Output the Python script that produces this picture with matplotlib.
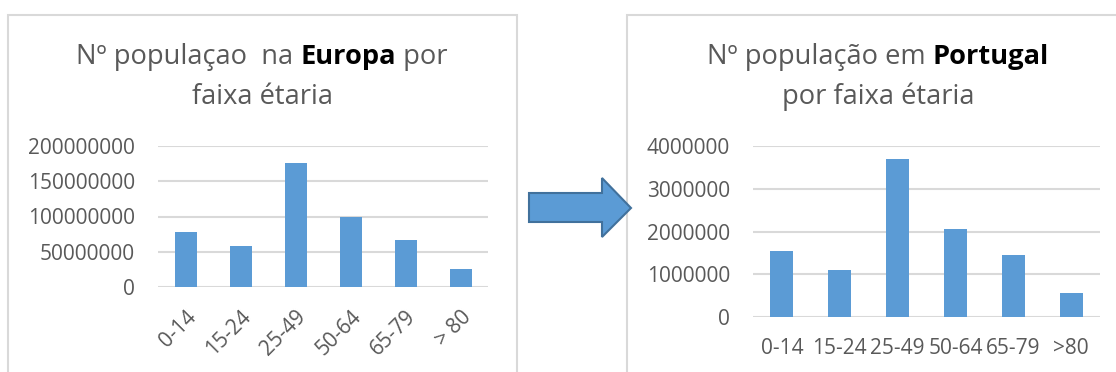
import matplotlib
matplotlib.use('Agg')
import matplotlib.pyplot as plt
from matplotlib.patches import Rectangle, Polygon
from matplotlib.ticker import FixedLocator

W, H = 1116, 372
plt.rcParams['font.family'] = ['Open Sans', 'DejaVu Sans']

faixas_eu = ['0-14', '15-24', '25-49', '50-64', '65-79', '> 80']
faixas_pt = ['0-14', '15-24', '25-49', '50-64', '65-79', '>80']
pop_europa = [77800000, 57500000, 175500000, 99000000, 66000000, 25500000]
pop_portugal = [1540000, 1110000, 3700000, 2060000, 1460000, 550000]

AZUL = '#5B9BD5'
CINZA = '#595959'
GRELHA = '#D9D9D9'

fig = plt.figure(figsize=(W / 100, H / 100), dpi=100)
fig.patch.set_facecolor('white')


def fx(px):
    return px / W


def fy(py):
    return 1 - py / H


# molduras dos dois gráficos
for x0, x1 in [(8, 517), (627, 1130)]:
    fig.patches.append(Rectangle((fx(x0), fy(400)), fx(x1 - x0), (400 - 15) / H,
                                 transform=fig.transFigure, fill=False,
                                 edgecolor=GRELHA, linewidth=1.5))

# seta entre os gráficos
seta = [(529, 193), (602, 193), (602, 178), (631, 208), (602, 237), (602, 222), (529, 222)]
fig.patches.append(Polygon([(fx(a), fy(b)) for a, b in seta], closed=True,
                           transform=fig.transFigure, facecolor=AZUL,
                           edgecolor='#41719C', linewidth=1.5))


def titulo(partes, cx, cy, size=19.6):
    r = fig.canvas.get_renderer()
    txts = []
    for s, bold in partes:
        t = fig.text(0, fy(cy), s, fontsize=size, color='black' if bold else CINZA,
                     fontweight='bold' if bold else 'normal', va='center', ha='left')
        txts.append(t)
    larg = [t.get_window_extent(r).width for t in txts]
    x = cx - sum(larg) / 2
    for t, w in zip(txts, larg):
        t.set_x(fx(x))
        x += w


def grafico(rect, valores, etiquetas, ymax, passo, rodar):
    ax = fig.add_axes(rect)
    ax.bar(range(len(valores)), valores, width=0.4, color=AZUL, zorder=3)
    ax.set_xlim(-0.5, len(valores) - 0.5)
    ax.set_ylim(0, ymax)
    ax.yaxis.set_major_locator(FixedLocator(range(0, ymax + 1, passo)))
    ax.yaxis.set_major_formatter(lambda v, p: f'{int(v)}')
    ax.grid(axis='y', color=GRELHA, linewidth=1.5, zorder=0)
    for s in ax.spines.values():
        s.set_visible(False)
    ax.tick_params(length=0, colors=CINZA, labelsize=15)
    ax.tick_params(axis='y', pad=16.5)
    ax.set_xticks(range(len(valores)))
    if rodar:
        ax.set_xticklabels(etiquetas, rotation=45, ha='right', va='top',
                           rotation_mode='anchor')
        ax.tick_params(axis='x', pad=14)
    else:
        ax.set_xticklabels(etiquetas)
        ax.tick_params(axis='x', pad=15)
    ax.set_facecolor('none')
    return ax


grafico([fx(158), fy(287), fx(330), 141 / H], pop_europa, faixas_eu,
        200000000, 50000000, True)
grafico([fx(753), fy(317), fx(347), 171 / H], pop_portugal, faixas_pt,
        4000000, 1000000, False)

titulo([('Nº populaçao  na ', False), ('Europa', True), (' por', False)], 262, 57)
titulo([('faixa étaria', False)], 262, 97)
titulo([('Nº população em ', False), ('Portugal', True)], 878, 57)
titulo([('por faixa étaria', False)], 878, 97)

fig.savefig('out.png', dpi=100, facecolor='white')
